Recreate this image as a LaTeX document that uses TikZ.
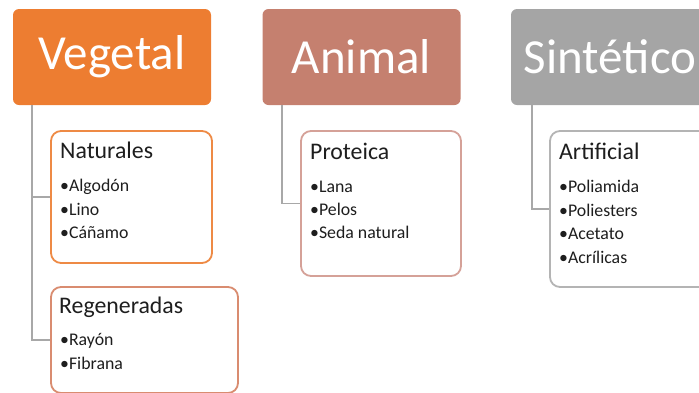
\documentclass[tikz,border=0pt]{standalone}
\usepackage{fontspec}
\setmainfont{Carlito}
\begin{document}
\definecolor{vegfill}{HTML}{ED7D31}
\definecolor{anifill}{HTML}{C5806F}
\definecolor{sinfill}{HTML}{A5A5A5}
\definecolor{natline}{HTML}{EE8A45}
\definecolor{regline}{HTML}{D98C70}
\definecolor{proline}{HTML}{D5A198}
\definecolor{artline}{HTML}{B4B4B4}
\definecolor{connline}{HTML}{A8A8A8}
\definecolor{ink}{HTML}{1E1E1E}
\begin{tikzpicture}[x=1pt,y=-1pt,
  header/.style={rounded corners=6pt, minimum width=198pt, minimum height=96pt,
    inner sep=0pt, text=white, font=\fontsize{49}{49}\selectfont},
  childbox/.style={draw=#1, line width=1.8pt, fill=white, rounded corners=10pt, inner sep=0pt},
  title/.style={anchor=base west, inner sep=0pt, text=ink, font=\fontsize{23.8}{23.8}\selectfont},
  item/.style={anchor=base west, inner sep=0pt, text=ink, font=\fontsize{17.8}{17.8}\selectfont},
  conn/.style={draw=connline, line width=1.8pt}]
\useasboundingbox (0,0) rectangle (699,392);

% category headers
\node[header, fill=vegfill] (veg) at (112,57) {Vegetal};
\node[header, fill=anifill] (ani) at (361.5,57) {Animal};
\node[header, fill=sinfill] (sin) at (610,57) {Sintético};

% child boxes
\node[childbox=natline, minimum width=161pt, minimum height=132pt] (nat) at (131.5,197) {};
\node[childbox=regline, minimum width=187pt, minimum height=106pt] (reg) at (144.5,340) {};
\node[childbox=proline, minimum width=160pt, minimum height=145pt] (pro) at (381,203.5) {};
\node[childbox=artline, minimum width=180pt, minimum height=156pt] (art) at (640,209) {};

% connectors
\coordinate (vegroot) at (32,105);
\coordinate (aniroot) at (282,105);
\coordinate (sinroot) at (532,105);
\draw[conn] (vegroot) |- (nat.west);
\draw[conn] (vegroot) |- (reg.west);
\draw[conn] (aniroot) |- (pro.west);
\draw[conn] (sinroot) |- (art.west);

% Naturales
\node[title] (natt) at (60,158) {Naturales};
\node[item] (nat1) at (60,191) {•Algodón};
\node[item] (nat2) at (60,215) {•Lino};
\node[item] (nat3) at (60,238) {•Cáñamo};

% Regeneradas
\node[title] (regt) at (59,313) {Regeneradas};
\node[item] (reg1) at (60,345) {•Rayón};
\node[item] (reg2) at (60,369) {•Fibrana};

% Proteica
\node[title] (prot) at (310,159) {Proteica};
\node[item] (pro1) at (310,192) {•Lana};
\node[item] (pro2) at (310,215) {•Pelos};
\node[item] (pro3) at (310,238) {•Seda natural};

% Artificial
\node[title] (artt) at (559,159) {Artificial};
\node[item] (art1) at (559,192) {•Poliamida};
\node[item] (art2) at (559,216) {•Poliesters};
\node[item] (art3) at (559,239) {•Acetato};
\node[item] (art4) at (559,263) {•Acrílicas};
\end{tikzpicture}
\end{document}
